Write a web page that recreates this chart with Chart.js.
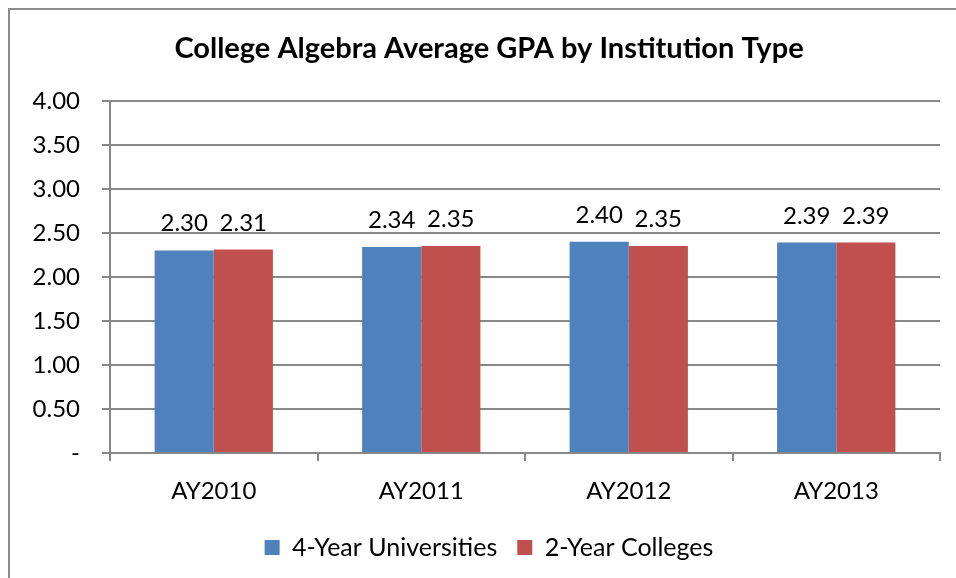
<!DOCTYPE html>
<html lang="en">
<head>
    <meta charset="UTF-8">
    <title>College Algebra Average GPA by Institution Type</title>
    <script src="https://cdn.jsdelivr.net/npm/chart.js"></script>
    <style>
        html, body { margin: 0; padding: 0; background: #fff; overflow: hidden; }
        .marco { position: absolute; left: 8px; top: 8px; width: 980px; height: 590px; border: 2px solid #8c8c8c; }
        .lienzo { position: absolute; left: 0; top: 0; width: 978px; height: 578px; }
    </style>
</head>
<body>
    <div class="marco"></div>
    <div class="lienzo"><canvas id="grafico" width="978" height="578"></canvas></div>

    <script>
        // datos
        const categorias = ["AY2010", "AY2011", "AY2012", "AY2013"];
        const universidades = [2.30, 2.34, 2.40, 2.39];
        const colegios = [2.31, 2.35, 2.35, 2.39];
        const nombresSeries = ["4-Year Universities", "2-Year Colleges"];
        const ticksY = [0, 0.5, 1, 1.5, 2, 2.5, 3, 3.5, 4];

        const fuente = "Lato, 'Open Sans', sans-serif";
        const gris = "#888888";

        // etiquetas de valor encima de cada barra
        const etiquetas = {
            id: 'etiquetas',
            afterDatasetsDraw(chart) {
                const ctx = chart.ctx;
                ctx.save();
                ctx.font = "24px " + fuente;
                ctx.fillStyle = "#000";
                ctx.textAlign = "center";
                ctx.textBaseline = "alphabetic";
                chart.data.datasets.forEach((ds, i) => {
                    chart.getDatasetMeta(i).data.forEach((bar, j) => {
                        ctx.fillText(ds.data[j].toFixed(2), bar.x, bar.y - 19);
                    });
                });
                ctx.restore();
            }
        };

        const ctx = document.getElementById('grafico').getContext('2d');
        const chart = new Chart(ctx, {
            type: 'bar',
            data: {
                labels: categorias,
                datasets: [
                    { label: nombresSeries[0], data: universidades, backgroundColor: '#4F81BD' },
                    { label: nombresSeries[1], data: colegios, backgroundColor: '#C0504D' }
                ]
            },
            options: {
                responsive: false,
                animation: false,
                categoryPercentage: 0.57,
                barPercentage: 1.0,
                layout: { padding: { left: 0, right: 0, top: 0, bottom: 8 } },
                plugins: {
                    title: {
                        display: true,
                        text: "College Algebra Average GPA by Institution Type",
                        color: '#000',
                        font: { family: fuente, size: 29, weight: 'bold' },
                        padding: { top: 31, bottom: 35 }
                    },
                    legend: {
                        position: 'bottom',
                        labels: {
                            color: '#000',
                            font: { family: fuente, size: 25 },
                            boxWidth: 15,
                            boxHeight: 15,
                            padding: 20
                        }
                    },
                    tooltip: { enabled: false }
                },
                scales: {
                    x: {
                        grid: { display: true, drawOnChartArea: false, drawTicks: true, tickLength: 8, color: gris, lineWidth: 2 },
                        border: { color: gris, width: 2 },
                        ticks: { color: '#000', font: { family: fuente, size: 24 }, padding: 16 },
                        afterFit(scale) { scale.height = 62; }
                    },
                    y: {
                        min: 0,
                        max: 4,
                        afterBuildTicks(scale) { scale.ticks = ticksY.map(v => ({ value: v })); },
                        grid: { color: gris, lineWidth: 2, tickLength: 8 },
                        border: { color: gris, width: 2 },
                        ticks: {
                            color: '#000',
                            font: { family: fuente, size: 24 },
                            padding: 22,
                            callback: v => v === 0 ? '-' : v.toFixed(2)
                        },
                        afterFit(scale) { scale.width = 110; }
                    },
                    // eje vacio a la derecha, solo para dejar margen
                    margen: {
                        axis: 'y',
                        position: 'right',
                        min: 0,
                        max: 4,
                        grid: { display: false },
                        border: { display: false },
                        ticks: { display: false },
                        afterFit(scale) { scale.width = 38; }
                    }
                }
            },
            plugins: [etiquetas]
        });
    </script>
</body>
</html>
